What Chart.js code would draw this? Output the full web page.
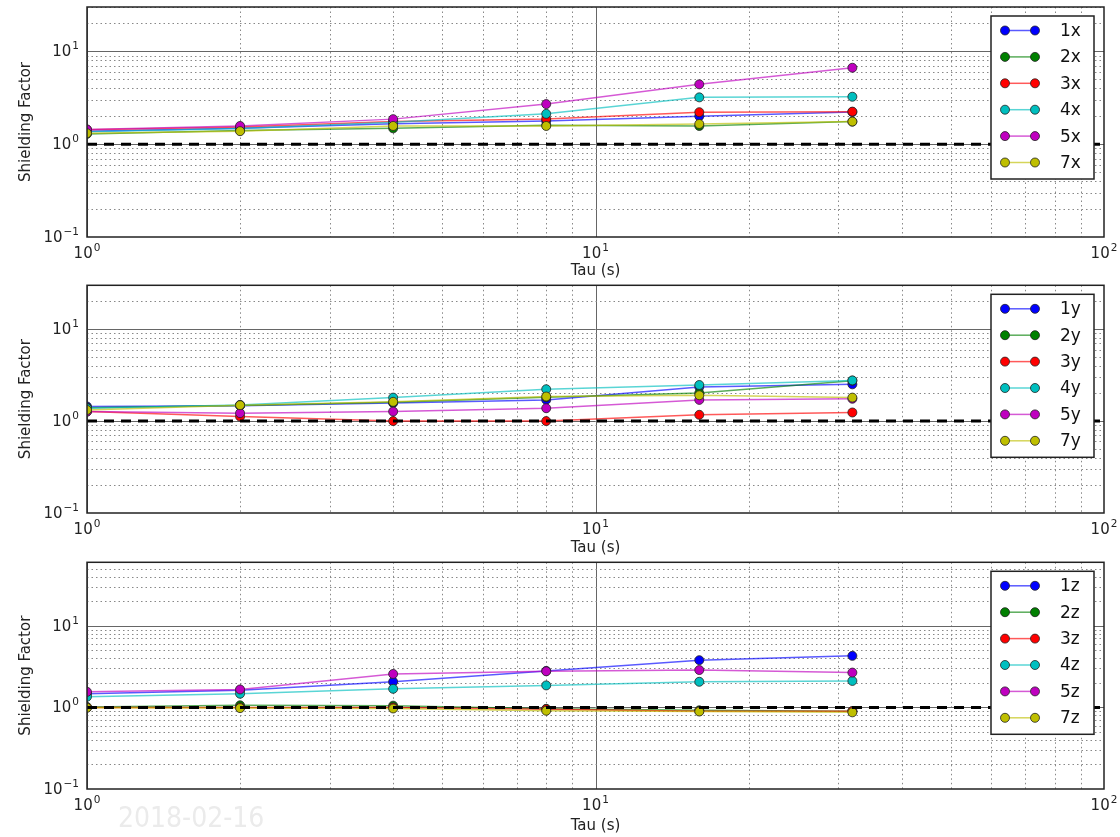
<!DOCTYPE html>
<html>
<head>
<meta charset="utf-8">
<script src="https://cdn.jsdelivr.net/npm/chart.js@4.4.1/dist/chart.umd.min.js"></script>
<style>
  body { margin: 0; background: #fff; width: 1120px; height: 837px; overflow: hidden; position: relative; font-family: "DejaVu Sans", sans-serif; }
  .panel { position: absolute; left: 0; width: 1120px; }
  #p1 { top: 0; height: 280px; }
  #p2 { top: 280px; height: 277px; }
  #p3 { top: 557px; height: 280px; }
  #stamp { position: absolute; left: 118px; top: 802px; font-size: 28px; line-height: 32px; color: #ebebeb; font-family: "DejaVu Sans Condensed", "DejaVu Sans", sans-serif; }
</style>
</head>
<body>
<div class="panel" id="p1"><canvas id="c1" width="1120" height="280"></canvas></div>
<div class="panel" id="p2"><canvas id="c2" width="1120" height="277"></canvas></div>
<div class="panel" id="p3"><canvas id="c3" width="1120" height="280"></canvas></div>
<div id="stamp">2018-02-16</div>
<script>
// tau values (s) where the shielding factor was measured
const tau = [1, 2, 4, 8, 16, 32];

// x direction
const namesX = ['1x', '2x', '3x', '4x', '5x', '7x'];
const sf1x = [1.38, 1.48, 1.66, 1.78, 2.00, 2.22];
const sf2x = [1.29, 1.40, 1.48, 1.60, 1.57, 1.75];
const sf3x = [1.43, 1.53, 1.75, 1.87, 2.21, 2.24];
const sf4x = [1.36, 1.47, 1.72, 2.12, 3.19, 3.24];
const sf5x = [1.44, 1.57, 1.86, 2.70, 4.41, 6.65];
const sf7x = [1.31, 1.38, 1.57, 1.57, 1.65, 1.75];

// y direction
const namesY = ['1y', '2y', '3y', '4y', '5y', '7y'];
const sf1y = [1.44, 1.47, 1.57, 1.70, 2.35, 2.51];
const sf2y = [1.40, 1.48, 1.60, 1.82, 2.02, 2.75];
const sf3y = [1.27, 1.12, 1.00, 1.00, 1.17, 1.24];
const sf4y = [1.38, 1.50, 1.80, 2.22, 2.47, 2.77];
const sf5y = [1.27, 1.22, 1.27, 1.38, 1.70, 1.75];
const sf7y = [1.32, 1.49, 1.62, 1.85, 1.91, 1.80];

// z direction
const namesZ = ['1z', '2z', '3z', '4z', '5z', '7z'];
const sf1z = [1.47, 1.62, 2.06, 2.80, 3.79, 4.28];
const sf2z = [1.01, 1.06, 1.05, 0.96, 0.92, 0.90];
const sf3z = [1.00, 1.00, 1.00, 0.95, 0.90, 0.90];
const sf4z = [1.35, 1.47, 1.69, 1.86, 2.06, 2.11];
const sf5z = [1.55, 1.66, 2.57, 2.77, 2.87, 2.67];
const sf7z = [0.99, 0.98, 0.97, 0.91, 0.89, 0.87];

// reference level (shielding factor 1) across the tau range
const refLevel = 1;
const tauRange = [1, 100];

// axis ticks: value and power-of-ten exponent shown as 10^n
const xTickValues = [1, 10, 100];
const xTickExps = ['0', '1', '2'];
const yTickValues = [0.1, 1, 10];
const yTickExps = ['\u22121', '0', '1'];

const colors = ['#0000ff', '#008000', '#ff0000', '#00bfbf', '#bf00bf', '#bfbf00'];

function fade(hex, a) {
  const n = parseInt(hex.slice(1), 16);
  return `rgba(${n >> 16},${(n >> 8) & 255},${n & 255},${a})`;
}

// "10" with a raised exponent, like mathtext
function drawPow(ctx, exp, x, baseline, align) {
  ctx.font = '15px "DejaVu Sans"';
  const w1 = ctx.measureText('10').width;
  ctx.font = '10.5px "DejaVu Sans"';
  const w2 = ctx.measureText(exp).width + 1;
  const x0 = align === 'center' ? x - (w1 + w2) / 2 : x - (w1 + w2);
  ctx.textAlign = 'left';
  ctx.textBaseline = 'alphabetic';
  ctx.font = '15px "DejaVu Sans"';
  ctx.fillText('10', x0, baseline);
  ctx.font = '10.5px "DejaVu Sans"';
  ctx.fillText(exp, x0 + w1 + 1, baseline - 7);
}

// matplotlib-like log grid: solid at decades, dotted in between
const logGrid = {
  id: 'logGrid',
  beforeDatasetsDraw(chart) {
    const { ctx, chartArea: a, scales } = chart;
    ctx.save();
    ctx.beginPath();
    ctx.rect(a.left, a.top, a.right - a.left, a.bottom - a.top);
    ctx.clip();
    const draw = (scale, horizontal) => {
      const lo = Math.floor(Math.log10(scale.min));
      const hi = Math.ceil(Math.log10(scale.max));
      for (let e = lo; e <= hi; e++) {
        for (let m = 1; m <= 9; m++) {
          const v = m * Math.pow(10, e);
          if (v < scale.min * 0.999 || v > scale.max * 1.001) continue;
          const p = Math.round(scale.getPixelForValue(v)) + 0.5;
          ctx.beginPath();
          if (m === 1) {
            ctx.setLineDash([]);
            ctx.strokeStyle = '#666';
          } else {
            ctx.setLineDash([1.5, 3]);
            ctx.strokeStyle = '#888';
          }
          ctx.lineWidth = 1;
          if (horizontal) { ctx.moveTo(p, a.top); ctx.lineTo(p, a.bottom); }
          else { ctx.moveTo(a.left, p); ctx.lineTo(a.right, p); }
          ctx.stroke();
        }
      }
    };
    draw(scales.x, true);
    draw(scales.y, false);
    ctx.restore();
  },
  afterDatasetsDraw(chart) {
    const { ctx, chartArea: a } = chart;
    ctx.save();
    ctx.strokeStyle = '#222';
    ctx.lineWidth = 1.5;
    ctx.strokeRect(a.left, a.top, a.right - a.left, a.bottom - a.top);
    ctx.restore();
  }
};

// tick labels as 10^n, placed by the scales
const powerLabels = {
  id: 'powerLabels',
  afterDraw(chart) {
    const { ctx, chartArea: a, scales: { x, y } } = chart;
    ctx.save();
    ctx.fillStyle = '#222';
    xTickValues.forEach((v, i) => drawPow(ctx, xTickExps[i], x.getPixelForValue(v), a.bottom + 20.5, 'center'));
    yTickValues.forEach((v, i) => drawPow(ctx, yTickExps[i], a.left - 8, y.getPixelForValue(v) + 5, 'right'));
    ctx.restore();
  }
};

// boxed legend with a short line and a marker at both ends
const boxLegend = {
  id: 'boxLegend',
  afterDraw(chart) {
    const { ctx, chartArea: a } = chart;
    const items = chart.data.datasets.filter(d => !d.isRef);
    const w = 103, h = 163, rowH = 26.4;
    const left = a.right - 10 - w, top = a.top + 9;
    ctx.save();
    ctx.fillStyle = '#fff';
    ctx.fillRect(left, top, w, h);
    ctx.strokeStyle = '#222';
    ctx.lineWidth = 1.5;
    ctx.strokeRect(left, top, w, h);
    items.forEach((d, i) => {
      const cy = top + 14.5 + i * rowH;
      ctx.strokeStyle = d.borderColor;
      ctx.lineWidth = 1.5;
      ctx.beginPath();
      ctx.moveTo(left + 14, cy);
      ctx.lineTo(left + 44, cy);
      ctx.stroke();
      [left + 14, left + 44].forEach(cx => {
        ctx.beginPath();
        ctx.arc(cx, cy, 4.5, 0, Math.PI * 2);
        ctx.fillStyle = d.pointBackgroundColor;
        ctx.fill();
        ctx.strokeStyle = '#222';
        ctx.lineWidth = 0.8;
        ctx.stroke();
      });
      ctx.fillStyle = '#111';
      ctx.font = '17px "DejaVu Sans"';
      ctx.textBaseline = 'middle';
      ctx.fillText(d.label, left + 69, cy + 1);
    });
    ctx.restore();
  }
};

function makeChart(id, names, series, yMax, plotTop, plotBottom, titlePad) {
  const canvas = document.getElementById(id);
  const H = canvas.height;
  const datasets = series.map((vals, i) => ({
    label: names[i],
    data: tau.map((t, j) => ({ x: t, y: vals[j] })),
    borderColor: fade(colors[i], 0.65),
    borderWidth: 1.5,
    pointBackgroundColor: colors[i],
    pointBorderColor: '#222',
    pointBorderWidth: 0.8,
    pointRadius: 4.5,
    tension: 0,
    clip: 0,
    order: series.length - i
  }));
  datasets.push({
    isRef: true,
    label: 'ref',
    data: tauRange.map(t => ({ x: t, y: refLevel })),
    borderColor: '#000',
    borderWidth: 3,
    borderDash: [10, 7],
    pointRadius: 0,
    clip: 0,
    order: 0
  });
  return new Chart(canvas, {
    type: 'line',
    data: { datasets },
    options: {
      responsive: false,
      animation: false,
      devicePixelRatio: 1,
      layout: { padding: { top: plotTop, right: 16, left: 0, bottom: 0 } },
      plugins: { legend: { display: false }, tooltip: { enabled: false } },
      scales: {
        x: {
          type: 'logarithmic',
          min: tauRange[0],
          max: tauRange[1],
          grid: { display: false },
          border: { display: false },
          afterBuildTicks: s => { s.ticks = xTickValues.map(v => ({ value: v })); },
          afterFit: s => { s.height = H - plotBottom; s.paddingLeft = 0; s.paddingRight = 0; },
          ticks: { display: false },
          title: {
            display: true,
            text: 'Tau (s)',
            color: '#222',
            font: { family: 'DejaVu Sans', size: 15 },
            padding: { top: 0, bottom: titlePad }
          }
        },
        y: {
          type: 'logarithmic',
          min: yTickValues[0],
          max: yMax,
          grid: { display: false },
          border: { display: false },
          afterBuildTicks: s => { s.ticks = yTickValues.map(v => ({ value: v })); },
          afterFit: s => { s.width = 87; s.paddingTop = 0; s.paddingBottom = 0; },
          ticks: { display: false },
          title: {
            display: true,
            text: 'Shielding Factor',
            color: '#222',
            font: { family: 'DejaVu Sans', size: 15 },
            padding: { top: 17, bottom: 0 }
          }
        }
      }
    },
    plugins: [logGrid, boxLegend, powerLabels]
  });
}

makeChart('c1', namesX, [sf1x, sf2x, sf3x, sf4x, sf5x, sf7x], 30, 7, 237, 0);
makeChart('c2', namesY, [sf1y, sf2y, sf3y, sf4y, sf5y, sf7y], 30, 3, 233, 0);
makeChart('c3', namesZ, [sf1z, sf2z, sf3z, sf4z, sf5z, sf7z], 60, 2, 232, 2);
</script>
</body>
</html>
